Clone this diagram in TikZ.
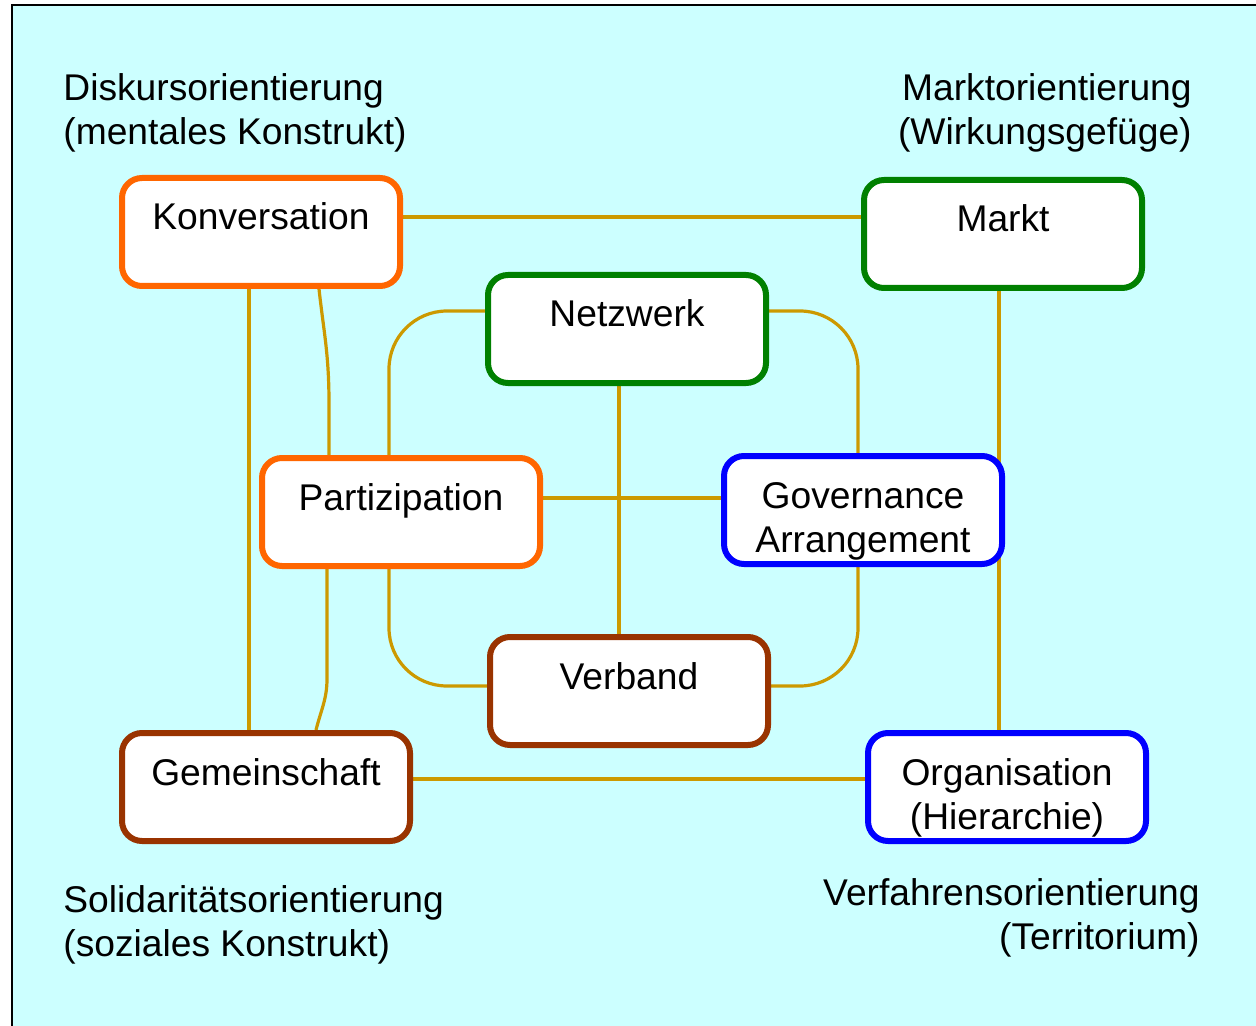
\documentclass[tikz,border=0pt]{standalone}
\usepackage{fontspec}
\setmainfont{Liberation Sans}
\usetikzlibrary{backgrounds}
\definecolor{bgcyan}{HTML}{CCFFFF}
\definecolor{linkgold}{HTML}{CC9900}
\definecolor{kborange}{HTML}{FF6600}
\definecolor{kbgreen}{HTML}{008000}
\definecolor{kbblue}{HTML}{0000FF}
\definecolor{kbbrown}{HTML}{993300}

\begin{document}
\begin{tikzpicture}[x=0.5pt,y=-0.5pt,
    every node/.style={font=\fontsize{18.6pt}{22pt}\selectfont},
    box/.style={draw=#1, fill=white, line width=3pt, rounded corners=10pt,
      anchor=north, inner sep=0pt, text width=139pt, align=center,
      text height=26pt, text depth=28pt},
    caption/.style={inner sep=0pt},
    link/.style={draw=linkgold, line width=1.6pt}]
    \useasboundingbox (0,0) rectangle (1256,1026);

    % the four orientations
    \node[caption, anchor=west, align=left] (diskurs) at (63,113) {Diskursorientierung\\(mentales Konstrukt)};
    \node[caption, anchor=east, align=right] (marktor) at (1192,113) {Marktorientierung\\(Wirkungsgef\"uge)};
    \node[caption, anchor=west, align=left] (solid) at (63,925) {Solidarit\"atsorientierung\\(soziales Konstrukt)};
    \node[caption, anchor=east, align=right] (verfahren) at (1200,918) {Verfahrensorientierung\\(Territorium)};

    % boxes
    \node[box=kborange] (konv) at (261,175) {Konversation};
    \node[box=kbgreen] (markt) at (1003,177) {Markt};
    \node[box=kbgreen] (netz) at (627,272) {Netzwerk};
    \node[box=kborange] (part) at (401,455) {Partizipation};
    \node[box=kbblue] (gov) at (863,453) {Governance\\Arrangement};
    \node[box=kbbrown] (verb) at (629,634) {Verband};
    \node[box=kbbrown, text width=144pt] (gem) at (266,730) {Gemeinschaft};
    \node[box=kbblue] (org) at (1007,730) {Organisation\\(Hierarchie)};

    \begin{scope}[on background layer]
      \draw[fill=bgcyan, line width=1pt] (11.5,5.5) rectangle (1290,1060);
      % outer square
      \draw[link] ([yshift=-21pt]konv.north east) coordinate (konvR) -- (konvR -| markt.west);
      \draw[link] ([xshift=-6pt]konv.south) coordinate (konvL) -- (konvL |- gem.north);
      \draw[link] ([xshift=-2pt]markt.south) coordinate (marktS) -- (marktS |- org.north);
      \draw[link] ([yshift=-24.5pt]gem.north east) coordinate (gemR) -- (gemR -| org.west);
      % inner part
      \draw[link] ([xshift=29pt]konv.south) .. controls +(5,45) and +(0,-50) .. ++(10,115) -- ([xshift=-36pt]part.north);
      \draw[link] ([xshift=-37pt]part.south) -- ++(0,110) .. controls +(0,20) and +(5,-20) .. ([xshift=25pt]gem.north);
      \draw[link, rounded corners=29pt] ([yshift=-19.5pt]netz.north west) -| ([xshift=-6pt]part.north);
      \draw[link, rounded corners=29pt] ([yshift=-19.5pt]netz.north east) -| ([xshift=-2.5pt]gov.north);
      \draw[link, rounded corners=29pt] ([xshift=-6pt]part.south) |- ([yshift=-26pt]verb.north west);
      \draw[link, rounded corners=29pt] ([xshift=-2.5pt]gov.south) |- ([yshift=-26pt]verb.north east);
      \draw[link] ([xshift=-4pt]netz.south) coordinate (netzS) -- (netzS |- verb.north);
      \draw[link] ([yshift=-21.5pt]part.north east) coordinate (partR) -- (partR -| gov.west);
    \end{scope}
\end{tikzpicture}
\end{document}
